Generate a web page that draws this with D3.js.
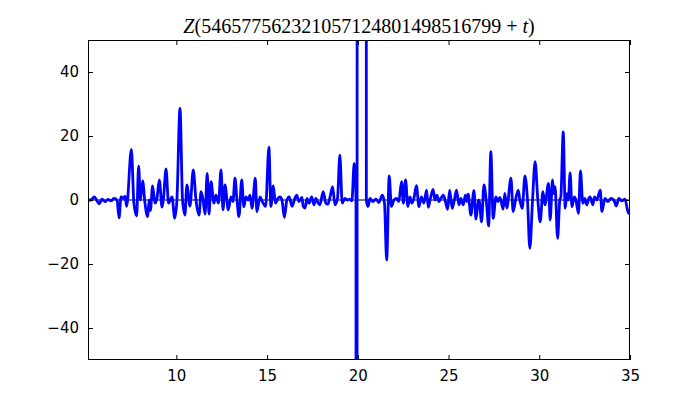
<!DOCTYPE html>
<html><head><meta charset="utf-8">
<script src="https://cdn.jsdelivr.net/npm/d3@7"></script>
<style>html,body{margin:0;padding:0;background:#fff;}svg{display:block;}</style>
</head><body>
<svg id="chart" width="700" height="400"></svg>
<script>
const titleParts = ["Z", "(546577562321057124801498516799", " + ", "t", ")"];
const xTicks = [10, 15, 20, 25, 30, 35];
const yTicks = [-40, -20, 0, 20, 40];
const xDomain = [5.13, 35];
const yDomain = [-50, 50];

const tValues = [5.13,5.30,5.48,5.63,5.75,5.90,6.07,6.23,6.40,6.56,6.73,6.84,6.95,7.09,7.17,7.26,7.52,7.66,7.81,7.92,8.02,8.14,8.27,8.42,8.50,8.57,8.69,8.82,8.93,9.06,9.21,9.29,9.43,9.57,9.76,9.91,10.03,10.20,10.34,10.47,10.58,10.75,10.93,11.08,11.25,11.36,11.47,11.58,11.70,11.80,11.91,12.07,12.18,12.32,12.46,12.57,12.68,12.86,13.01,13.12,13.23,13.34,13.45,13.60,13.72,13.83,13.95,14.06,14.17,14.35,14.44,14.61,14.74,14.92,15.10,15.21,15.34,15.46,15.60,15.71,15.82,15.95,16.09,16.22,16.37,16.53,16.63,16.76,16.92,16.99,17.09,17.20,17.31,17.46,17.58,17.69,17.80,17.91,18.09,18.24,18.35,18.47,18.61,18.74,18.88,19.01,19.14,19.29,19.43,19.56,19.67,19.80,19.90,19.93,19.99,20.42,20.47,20.56,20.67,20.83,21.00,21.16,21.35,21.47,21.59,21.73,21.85,21.99,22.13,22.26,22.41,22.51,22.63,22.76,22.87,22.98,23.09,23.23,23.37,23.50,23.64,23.79,23.88,24.00,24.15,24.25,24.36,24.47,24.58,24.71,24.83,24.95,25.06,25.20,25.32,25.44,25.57,25.68,25.81,25.93,26.01,26.08,26.23,26.40,26.51,26.65,26.70,26.82,26.95,27.09,27.21,27.33,27.46,27.61,27.72,27.83,28.01,28.10,28.21,28.44,28.56,28.71,28.84,28.93,29.06,29.21,29.35,29.48,29.63,29.77,29.92,30.05,30.20,30.31,30.51,30.60,30.73,30.80,30.87,31.01,31.13,31.19,31.32,31.43,31.52,31.60,31.70,31.80,31.93,32.02,32.16,32.27,32.40,32.51,32.62,32.73,32.80,32.95,33.04,33.17,33.36,33.45,33.62,33.78,33.95,34.11,34.24,34.39,34.55,34.72,34.92,35.00];
const zValues = [0,0,1.0,-0.3,-1.2,0.3,-0.5,0.2,-0.3,0.5,0,-5.6,1,0.5,1.2,-2,15.8,-1,-5,10.6,0,6,-1,-5.2,0,-3.3,4.4,-1,0.5,6.25,-2.2,0.5,9.7,-1,1,-5.7,0,28.6,0,-4.7,4.7,-1.9,9.4,0,-4.7,2.6,0,-4.4,8.3,-4.4,5.7,-1,1.5,-1,9.4,-3.1,4.7,-3.1,1,-0.5,6.8,0,-5.2,6.25,-2.1,1,0,1.5,-2.6,6.8,-3.6,1,-0.5,-2,16.5,-2,4.4,-1,0.5,1,0,-5.4,0,1,-2,0.5,1.5,-0.5,0.8,-2,-2.5,0.5,-1,1,-1.5,0.5,-0.8,-1.5,2.6,-1,-1.3,1,4.2,-1.5,0.5,14,-1,0.5,0,0.3,-0.3,11.4,0,-1200,1200,1200,0,-2,0.5,-0.5,0.3,-0.8,1.5,-1,-18.8,7.5,-2,0,0.5,-0.5,5.7,-1,6.25,-2,1,-1,0.5,4.5,-2.1,1,-1,3.1,-2.3,0.5,3.3,0,1.5,-0.5,0.5,1.5,-0.5,-2.9,3.1,-2.6,0,3.1,-1.5,0.5,-1.5,1.5,-0.5,1.8,-4.7,2.9,-6,0,-0.5,-6.8,4.7,-1,-8.1,15.1,-5.7,1,-0.5,0.8,-2.9,2.1,-2.5,6.8,-3.6,0.5,3.1,0,-2.6,7.5,0,-15.1,0,12,0,-6.8,2.6,-1.5,5.2,-6.25,6.25,2,4.2,-12,0,1,21.3,-2.6,2,0,8.5,-2.1,1,0,-4.2,9.1,-1,0.5,-1.5,0.5,1,-1.5,1,0,3.1,-3.6,0.5,-0.5,0.5,0,-1.9,0.5,-0.3,0.3,-4.2,-3];

const svg = d3.select("#chart");
const m = {left: 88, right: 630, top: 40, bottom: 360};
const x = d3.scaleLinear().domain(xDomain).range([m.left, m.right]);
const y = d3.scaleLinear().domain(yDomain).range([m.bottom, m.top]);

svg.append("defs").append("clipPath").attr("id","clip")
  .append("rect").attr("x", m.left).attr("y", m.top)
  .attr("width", m.right - m.left).attr("height", m.bottom - m.top);

const data = tValues.map((t, i) => ({t, z: zValues[i]}));

// zero line
svg.append("line").attr("x1", m.left).attr("x2", m.right)
  .attr("y1", y(0)).attr("y2", y(0)).attr("stroke", "#000").attr("stroke-width", 1);

svg.append("path").datum(data)
  .attr("clip-path", "url(#clip)")
  .attr("fill", "none").attr("stroke", "#0000ff").attr("stroke-width", 2.8)
  .attr("stroke-linejoin", "round")
  .attr("d", d3.line().x(d => x(d.t)).y(d => y(d.z)).curve(d3.curveMonotoneX));

// axes (ticks inside)
const fontTick = "DejaVu Sans";
const xAxisB = d3.axisBottom(x).tickValues(xTicks).tickSize(-5).tickPadding(10).tickFormat(d3.format("d"));
const xAxisT = d3.axisTop(x).tickValues(xTicks).tickSize(-5).tickFormat("");
const yAxisL = d3.axisLeft(y).tickValues(yTicks).tickSize(-5).tickPadding(9)
  .tickFormat(d => d < 0 ? "\u2212" + Math.abs(d) : String(d));
const yAxisR = d3.axisRight(y).tickValues(yTicks).tickSize(-5).tickFormat("");

function style(g){
  g.select(".domain").remove();
  g.selectAll("line").attr("stroke", "#000");
  g.selectAll("text").attr("font-family", fontTick).attr("font-size", 15).attr("fill", "#000");
}
svg.append("g").attr("transform", `translate(0,${m.bottom})`).call(xAxisB).call(style);
svg.append("g").attr("transform", `translate(0,${m.top})`).call(xAxisT).call(style);
svg.append("g").attr("transform", `translate(${m.left},0)`).call(yAxisL).call(style);
svg.append("g").attr("transform", `translate(${m.right},0)`).call(yAxisR).call(style);

// frame
svg.append("rect").attr("x", m.left + 0.5).attr("y", m.top + 0.5)
  .attr("width", m.right - m.left - 1).attr("height", m.bottom - m.top - 1)
  .attr("fill", "none").attr("stroke", "#000").attr("stroke-width", 1);

// title
const title = svg.append("text").attr("x", (m.left + m.right) / 2).attr("y", 33)
  .attr("text-anchor", "middle").attr("font-family", "Liberation Serif").attr("font-size", 20).attr("fill", "#000");
titleParts.forEach((p, i) => {
  title.append("tspan").text(p).attr("font-style", (p === "Z" || p === "t") ? "italic" : "normal");
});
</script>
</body></html>
